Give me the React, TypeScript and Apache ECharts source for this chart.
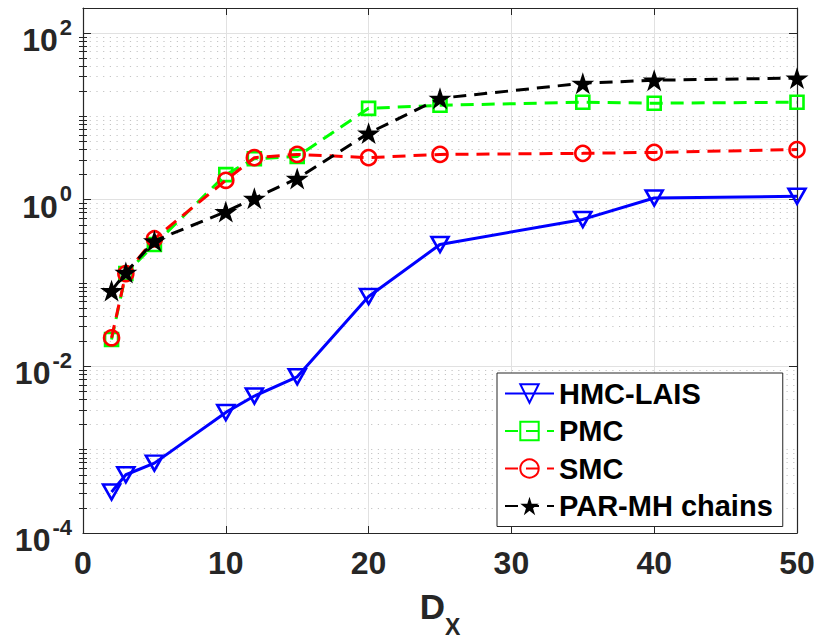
import React, { useEffect, useRef } from 'react';
import * as echarts from 'echarts';

const dims = [2, 3, 5, 10, 12, 15, 20, 25, 35, 40, 50];
const hmcLais = [3.1e-4, 5.0e-4, 6.9e-4, 2.8e-3, 4.4e-3, 7.5e-3, 0.069, 0.29, 0.58, 1.05, 1.1];
const pmc = [0.021, 0.13, 0.29, 2.0, 3.1, 3.3, 12.5, 13.6, 14.8, 14.4, 14.8];
const smc = [0.022, 0.13, 0.34, 1.71, 3.2, 3.5, 3.2, 3.5, 3.6, 3.7, 4.0];
const parMh = [0.081, 0.134, 0.32, 0.72, 1.04, 1.8, 6.3, 16.5, 25, 27.2, 28.8];

const seriesNames = ['HMC-LAIS', 'PMC', 'SMC', 'PAR-MH chains'];
const yMajorTicks = [1e-4, 1e-2, 1, 100];
const yMin = 1e-4;
const yMax = 200;

// minor tick positions on the log axis: m * 10^k (m = 2..9), plus the odd decades
const yMinorTicks: number[] = [];
for (let k = -4; k <= 2; k++) {
  for (let m = 1; m <= 9; m++) {
    const v = m * Math.pow(10, k);
    if (m === 1 && k % 2 === 0) continue;
    if (v < yMax * 0.999) yMinorTicks.push(Number(v.toPrecision(3)));
  }
}

const FONT = 'Liberation Sans, Arial, Helvetica, sans-serif';
const AX = '#262626';

const starPath =
  'path://M0,-1L0.2245,-0.309L0.9511,-0.309L0.3633,0.118L0.5878,0.809L0,0.382L-0.5878,0.809L-0.3633,0.118L-0.9511,-0.309L-0.2245,-0.309Z';

export default function App() {
  const ref = useRef<HTMLDivElement>(null);
  useEffect(() => {
    document.body.style.margin = '0';
    const chart = echarts.init(ref.current!, undefined, { renderer: 'svg' });
    const pair = (ys: number[]) => dims.map((d, i) => [d, ys[i]]);
    const hollow = (c: string, w: number) => ({ color: 'rgba(255,255,255,0)', borderColor: c, borderWidth: w });
    const dash = [13, 8];

    const option: any = {
      animation: false,
      backgroundColor: '#ffffff',
      grid: { left: 83, right: 17, top: 8, bottom: 110, containLabel: false, outerBoundsMode: 'none' },
      xAxis: [
        {
          type: 'value', min: 0, max: 50, interval: 10, position: 'bottom',
          axisLine: { show: true, onZero: false, lineStyle: { color: AX, width: 1.2 } },
          axisTick: { show: true, inside: true, length: 7, lineStyle: { color: AX } },
          axisLabel: { show: true, margin: 14, color: AX, fontSize: 32, fontWeight: 'bold', fontFamily: FONT },
          splitLine: { show: true, lineStyle: { color: '#e1e1e1', width: 1 } },
          name: '{d|D}{s|X}', nameLocation: 'middle', nameGap: 56,
          nameTextStyle: {
            rich: {
              d: { fontSize: 35, fontWeight: 'bold', color: AX, fontFamily: FONT, padding: [0, 0, 18, 0] },
              s: { fontSize: 23, fontWeight: 'bold', color: AX, fontFamily: FONT, padding: [22, 0, 0, 0] },
            },
          },
        },
        {
          type: 'value', min: 0, max: 50, interval: 10, position: 'top',
          axisLine: { show: true, onZero: false, lineStyle: { color: AX, width: 1.2 } },
          axisTick: { show: true, inside: true, length: 7, lineStyle: { color: AX } },
          axisLabel: { show: false }, splitLine: { show: false },
        },
      ],
      yAxis: [
        {
          type: 'log', logBase: 10, min: yMin, max: yMax, position: 'left',
          axisLine: { show: true, onZero: false, lineStyle: { color: AX, width: 1.2 } },
          axisTick: { show: true, inside: true, length: 8, customValues: yMajorTicks, lineStyle: { color: AX } },
          axisLabel: {
            show: true, margin: 11, customValues: yMajorTicks,
            formatter: (v: number) => `{b|10}{s|${Math.round(Math.log10(v))}}`,
            rich: {
              b: { fontSize: 32, fontWeight: 'bold', color: AX, fontFamily: FONT, padding: [14, 0, 0, 0] },
              s: { fontSize: 22, fontWeight: 'bold', color: AX, fontFamily: FONT, padding: [0, 0, 12, 2] },
            },
          },
          splitLine: { show: true, lineStyle: { color: '#e1e1e1', width: 1 } },
          minorTick: { show: false }, minorSplitLine: { show: false },
        },
        {
          type: 'log', logBase: 10, min: yMin, max: yMax, position: 'left',
          axisLine: { show: false },
          axisTick: { show: true, inside: true, length: 4, customValues: yMinorTicks, lineStyle: { color: AX } },
          axisLabel: { show: false },
          splitLine: { show: true, lineStyle: { color: '#c4c4c4', width: 1, type: [1.2, 5.5] } },
        },
        {
          type: 'log', logBase: 10, min: yMin, max: yMax, position: 'right',
          axisLine: { show: true, onZero: false, lineStyle: { color: AX, width: 1.2 } },
          axisTick: { show: true, inside: true, length: 8, customValues: yMajorTicks, lineStyle: { color: AX } },
          axisLabel: { show: false }, splitLine: { show: false },
        },
        {
          type: 'log', logBase: 10, min: yMin, max: yMax, position: 'right',
          axisLine: { show: false },
          axisTick: { show: true, inside: true, length: 4, customValues: yMinorTicks, lineStyle: { color: AX } },
          axisLabel: { show: false }, splitLine: { show: false },
        },
      ],
      legend: {
        show: true, orient: 'vertical', left: 497, top: 373, width: 290,
        backgroundColor: '#ffffff', borderColor: AX, borderWidth: 1, borderRadius: 0,
        padding: [6, 10, 6, 7], itemGap: 8.5, itemWidth: 49, itemHeight: 23,
        textStyle: { fontSize: 29, fontWeight: 'bold', color: '#000', fontFamily: FONT },
        data: seriesNames,
      },
      series: [
        {
          name: seriesNames[0], type: 'line', data: pair(hmcLais), xAxisIndex: 0, yAxisIndex: 0,
          symbol: 'triangle', symbolRotate: 180, symbolSize: [17, 15],
          lineStyle: { color: '#0000ff', width: 3 }, itemStyle: hollow('#0000ff', 2.6), z: 3,
        },
        {
          name: seriesNames[1], type: 'line', data: pair(pmc), xAxisIndex: 0, yAxisIndex: 0,
          symbol: 'rect', symbolSize: 13,
          lineStyle: { color: '#00ff00', width: 3, type: dash }, itemStyle: hollow('#00ff00', 2.6), z: 4,
        },
        {
          name: seriesNames[2], type: 'line', data: pair(smc), xAxisIndex: 0, yAxisIndex: 0,
          symbol: 'circle', symbolSize: 15,
          lineStyle: { color: '#ff0000', width: 3, type: dash }, itemStyle: hollow('#ff0000', 2.6), z: 5,
        },
        {
          name: seriesNames[3], type: 'line', data: pair(parMh), xAxisIndex: 0, yAxisIndex: 0,
          symbol: starPath, symbolSize: 23, symbolKeepAspect: true,
          lineStyle: { color: '#000000', width: 3, type: dash },
          itemStyle: { color: '#000000', borderColor: '#000000', borderWidth: 0 }, z: 6,
        },
      ],
    };
    chart.setOption(option);
    return () => chart.dispose();
  }, []);
  return <div ref={ref} style={{ width: 814, height: 643 }} />;
}
